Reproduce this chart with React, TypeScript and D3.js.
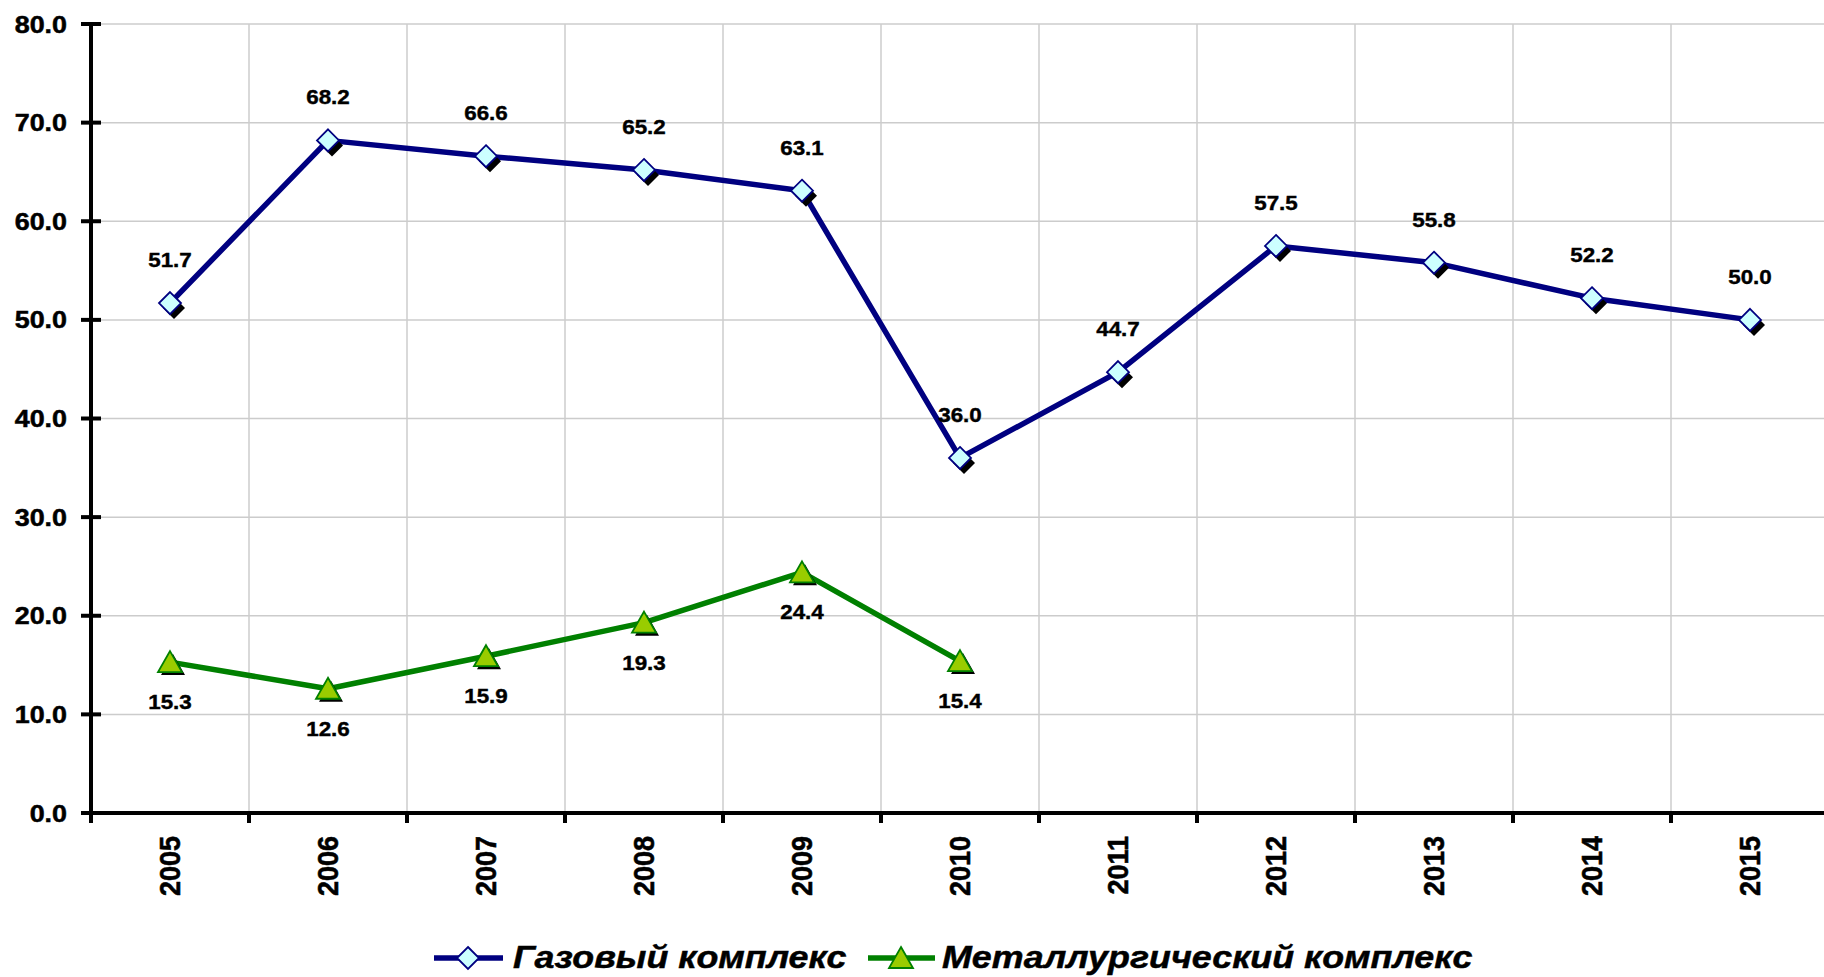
import * as d3 from "d3";

const years = ["2005", "2006", "2007", "2008", "2009", "2010", "2011", "2012", "2013", "2014", "2015"];
const gasValues = [51.7, 68.2, 66.6, 65.2, 63.1, 36.0, 44.7, 57.5, 55.8, 52.2, 50.0];
const metalValues = [15.3, 12.6, 15.9, 19.3, 24.4, 15.4];
const yTicks = [0, 10, 20, 30, 40, 50, 60, 70, 80];
const gasName = "Газовый комплекс";
const metalName = "Металлургический комплекс";

const W = 1824;
const H = 977;
const left = 91;
const band = 158;
const SX = 1.12; // the picture is stretched horizontally
const font = "'Liberation Sans', Arial, sans-serif";

const x = d3.scaleBand<string>().domain(years).range([left, left + band * years.length]);
const y = d3.scaleLinear().domain([0, 80]).range([813, 24]);
const cx = (yr: string) => (x(yr) ?? 0) + x.bandwidth() / 2;

const line = d3
  .line<number>()
  .x((_, i) => cx(years[i]))
  .y((d) => y(d));

const diamond = (r: number) => `M0,${-r}L${r},0L0,${r}L${-r},0Z`;
const triangle = "M0,-11L12,10L-12,10Z";

const Label = ({ tx, ty, size, children }: { tx: number; ty: number; size: number; children: string }) => (
  <text
    transform={`translate(${tx},${ty}) scale(${SX},1)`}
    textAnchor="middle"
    fontFamily={font}
    fontWeight="bold"
    fontSize={size}
    stroke="#000"
    strokeWidth={0.4}
  >
    {children}
  </text>
);

export default function App() {
  const gridX = years.slice(1).map((yr) => x(yr) ?? 0);
  const ticksX = years.map((yr) => x(yr) ?? 0);
  const right = W;

  return (
    <svg width={W} height={H} style={{ position: "absolute", left: 0, top: 0, background: "#fff" }}>
      {/* gridlines */}
      <g stroke="#cccccc" strokeWidth={1.5}>
        {yTicks.slice(1).map((t) => (
          <line key={t} x1={left} x2={right} y1={y(t)} y2={y(t)} />
        ))}
        {gridX.map((gx) => (
          <line key={gx} x1={gx} x2={gx} y1={y(80)} y2={y(0)} />
        ))}
      </g>

      {/* axes */}
      <g stroke="#000" strokeWidth={4}>
        <line x1={left} x2={left} y1={y(80) - 2} y2={y(0) + 2} />
        <line x1={left} x2={right} y1={y(0)} y2={y(0)} />
        {yTicks.map((t) => (
          <line key={t} x1={left - 10} x2={left + 10} y1={y(t)} y2={y(t)} />
        ))}
        {ticksX.map((tx) => (
          <line key={tx} x1={tx} x2={tx} y1={y(0)} y2={y(0) + 10} />
        ))}
      </g>

      {yTicks.map((t) => (
        <text
          key={t}
          transform={`translate(67,${y(t) + 8.6}) scale(${SX},1)`}
          textAnchor="end"
          fontFamily={font}
          fontWeight="bold"
          fontSize={24}
          stroke="#000"
          strokeWidth={0.5}
        >
          {t.toFixed(1)}
        </text>
      ))}

      {years.map((yr) => (
        <text
          key={yr}
          transform={`translate(${cx(yr) + 10},836) scale(${SX},1) rotate(-90)`}
          textAnchor="end"
          fontFamily={font}
          fontWeight="bold"
          fontSize={27}
          stroke="#000"
          strokeWidth={0.5}
        >
          {yr}
        </text>
      ))}

      {/* series lines */}
      <path d={line(gasValues) ?? ""} fill="none" stroke="#000080" strokeWidth={5.5} strokeLinejoin="round" />
      <path d={line(metalValues) ?? ""} fill="none" stroke="#008000" strokeWidth={5.5} strokeLinejoin="round" />

      {/* markers */}
      {gasValues.map((v, i) => (
        <g key={i} transform={`translate(${cx(years[i])},${y(v)})`}>
          <path d={diamond(11)} transform="translate(4,5)" fill="#000" />
          <path d={diamond(11)} fill="#ccffff" stroke="#000080" strokeWidth={1.8} />
        </g>
      ))}
      {metalValues.map((v, i) => (
        <g key={i} transform={`translate(${cx(years[i])},${y(v)})`}>
          <path d={triangle} transform="translate(3,3)" fill="#000" />
          <path d={triangle} fill="#99cc00" stroke="#008000" strokeWidth={1.8} />
        </g>
      ))}

      {/* data labels */}
      {gasValues.map((v, i) => (
        <Label key={i} tx={cx(years[i])} ty={y(v) - 36} size={20}>
          {v.toFixed(1)}
        </Label>
      ))}
      {metalValues.map((v, i) => (
        <Label key={i} tx={cx(years[i])} ty={y(v) + 47} size={20}>
          {v.toFixed(1)}
        </Label>
      ))}

      {/* legend */}
      <g>
        <line x1={434} x2={503} y1={958} y2={958} stroke="#000080" strokeWidth={5.5} />
        <path d={diamond(11)} transform="translate(468,958)" fill="#ccffff" stroke="#000080" strokeWidth={1.8} />
        <text
          transform={`translate(513,968) scale(${SX},1)`}
          fontFamily={font}
          fontWeight="bold"
          fontStyle="italic"
          fontSize={32}
          stroke="#000"
          strokeWidth={0.5}
        >
          {gasName}
        </text>
        <line x1={868} x2={935} y1={958} y2={958} stroke="#008000" strokeWidth={5.5} />
        <path d={triangle} transform="translate(901,958)" fill="#99cc00" stroke="#008000" strokeWidth={1.8} />
        <text
          transform={`translate(942,968) scale(${SX},1)`}
          fontFamily={font}
          fontWeight="bold"
          fontStyle="italic"
          fontSize={32}
          stroke="#000"
          strokeWidth={0.5}
        >
          {metalName}
        </text>
      </g>
    </svg>
  );
}
